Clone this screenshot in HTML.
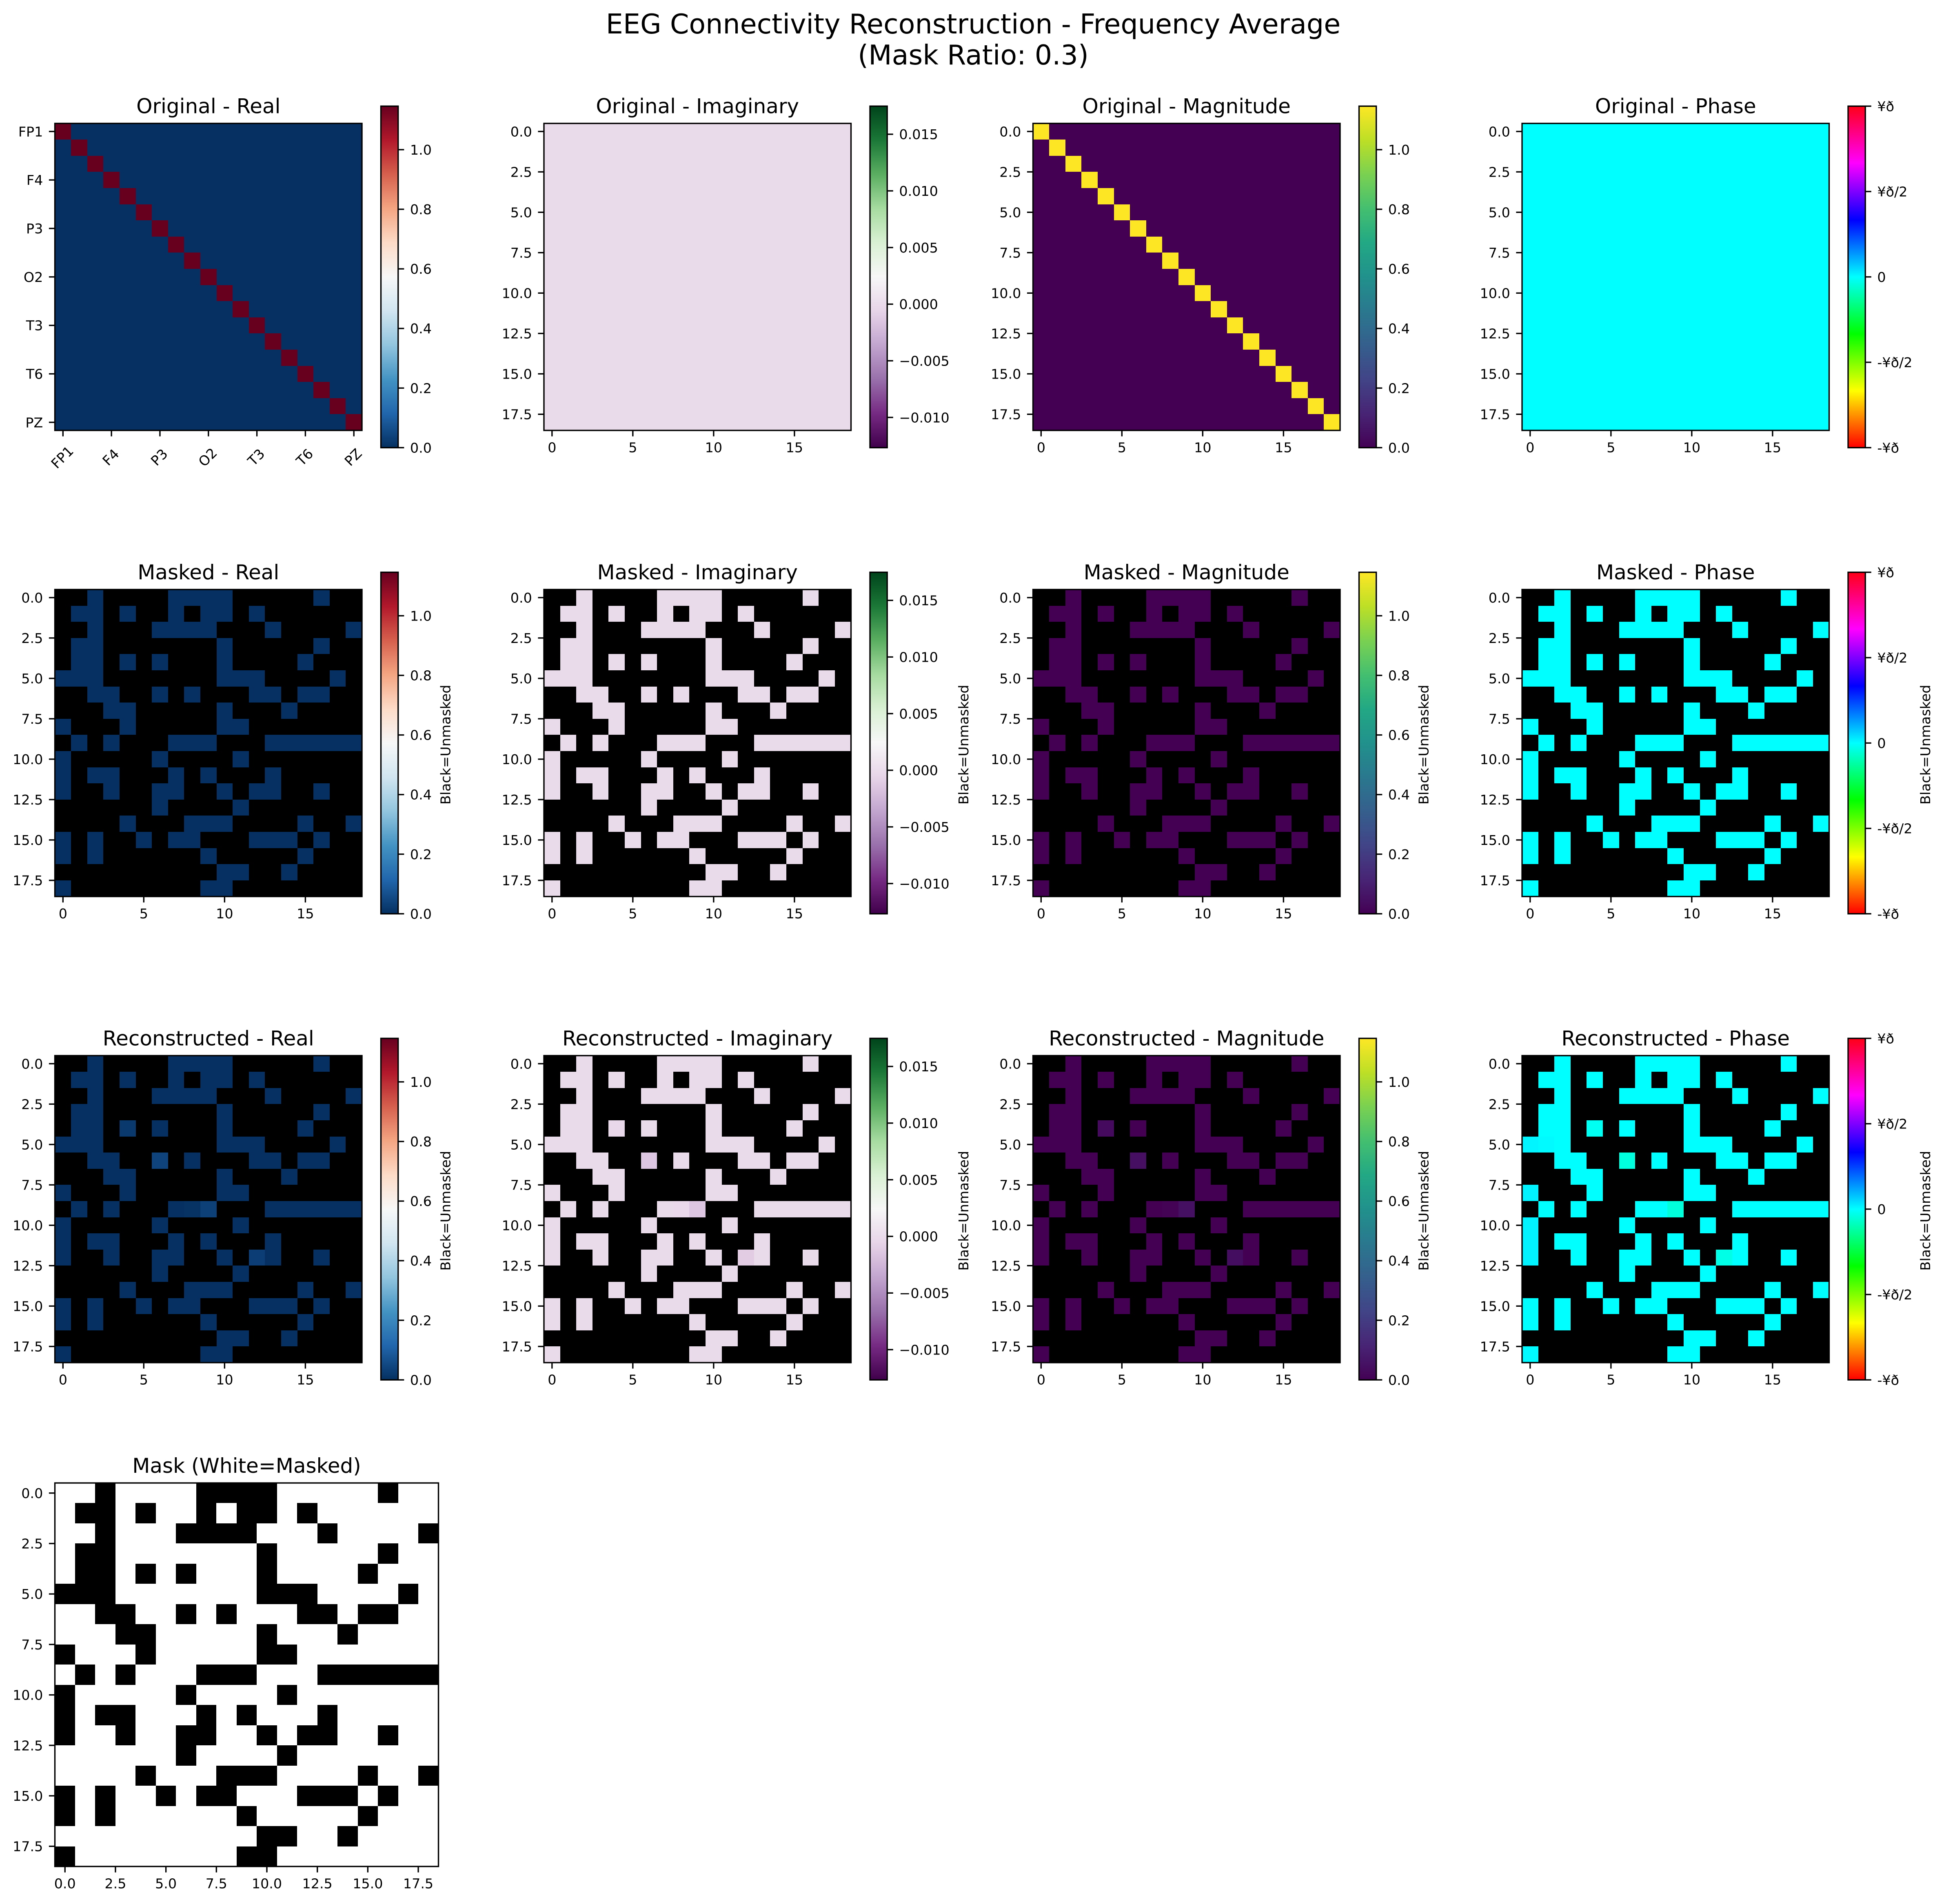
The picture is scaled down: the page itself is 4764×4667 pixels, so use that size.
<!DOCTYPE html>
<html lang="en">
<head>
<meta charset="utf-8">
<title>EEG Connectivity Reconstruction - Frequency Average</title>
<style>
html,body{margin:0;padding:0;background:#fff;}
svg{display:block;}
text{font-family:"DejaVu Sans","Liberation Sans",sans-serif;fill:#000;}
</style>
</head>
<body>
<svg id="figure" xmlns="http://www.w3.org/2000/svg" width="4764" height="4667" viewBox="0 0 4764 4667">
<rect x="0" y="0" width="4764" height="4667" fill="#ffffff"/>
<text x="2385" y="82" font-size="66.67" text-anchor="middle">EEG Connectivity Reconstruction - Frequency Average</text>
<text x="2385" y="158" font-size="66.67" text-anchor="middle">(Mask Ratio: 0.3)</text>
</svg>
<script>
const channelLabels = ['FP1','F4','P3','O2','T3','T6','PZ'];
const channelTicks = [0,3,6,9,12,15,18];
const intTicks = [0,5,10,15];
const intTickLabels = ['0','5','10','15'];
const halfTicks = [0,2.5,5,7.5,10,12.5,15,17.5];
const halfTickLabels = ['0.0','2.5','5.0','7.5','10.0','12.5','15.0','17.5'];

const realBarTicks = [0,0.2,0.4,0.6,0.8,1.0];
const realBarLabels = ['0.0','0.2','0.4','0.6','0.8','1.0'];
const imagBarTicks = [-0.010,-0.005,0,0.005,0.010,0.015];
const imagBarLabels = ['\u22120.010','\u22120.005','0.000','0.005','0.010','0.015'];
const phaseBarTicks = [-3.14159,-1.5708,0,1.5708,3.14159];
const phaseBarLabels = ['-¥ð','-¥ð/2','0','¥ð/2','¥ð'];

const realRange = [0,1.146];
const imagRange = [-0.01267,0.01748];
const magnitudeRange = [0,1.146];
const phaseRange = [-3.14159,3.14159];

const rdbuStops = ['#053061','#2166ac','#4393c3','#92c5de','#d1e5f0','#f7f7f7','#fddbc7','#f4a582','#d6604d','#b2182b','#67001f'];
const prgnStops = ['#40004b','#762a83','#9970ab','#c2a5cf','#e7d4e8','#f7f7f7','#d9f0d3','#a6dba0','#5aae61','#1b7837','#00441b'];
const viridisStops = ['#440154','#482475','#414487','#355f8d','#2a788e','#21918c','#22a884','#44bf70','#7ad151','#bddf26','#fde725'];
const hsvStops = ['#ff0000','#ffff00','#00ff00','#00ffff','#0000ff','#ff00ff','#ff0018'];

const maskMatrix = [
[1,1,0,1,1,1,1,0,0,0,0,1,1,1,1,1,0,1,1],
[1,0,0,1,0,1,1,0,1,0,0,1,0,1,1,1,1,1,1],
[1,1,0,1,1,1,0,0,0,0,1,1,1,0,1,1,1,1,0],
[1,0,0,1,1,1,1,1,1,1,0,1,1,1,1,1,0,1,1],
[1,0,0,1,0,1,0,1,1,1,0,1,1,1,1,0,1,1,1],
[0,0,0,1,1,1,1,1,1,1,0,0,0,1,1,1,1,0,1],
[1,1,0,0,1,1,0,1,0,1,1,1,0,0,1,0,0,1,1],
[1,1,1,0,0,1,1,1,1,1,0,1,1,1,0,1,1,1,1],
[0,1,1,1,0,1,1,1,1,1,0,0,1,1,1,1,1,1,1],
[1,0,1,0,1,1,1,0,0,0,1,1,1,0,0,0,0,0,0],
[0,1,1,1,1,1,0,1,1,1,1,0,1,1,1,1,1,1,1],
[0,1,0,0,1,1,1,0,1,0,1,1,1,0,1,1,1,1,1],
[0,1,1,0,1,1,0,0,1,1,0,1,0,0,1,1,0,1,1],
[1,1,1,1,1,1,0,1,1,1,1,0,1,1,1,1,1,1,1],
[1,1,1,1,0,1,1,1,0,0,0,1,1,1,1,0,1,1,0],
[0,1,0,1,1,0,1,0,0,1,1,1,0,0,0,1,0,1,1],
[0,1,0,1,1,1,1,1,1,0,1,1,1,1,1,0,1,1,1],
[1,1,1,1,1,1,1,1,1,1,0,0,1,1,0,1,1,1,1],
[0,1,1,1,1,1,1,1,1,0,0,1,1,1,1,1,1,1,1]
];

const originalReal = [
[1.146,0,0,0,0,0,0,0,0,0,0,0,0,0,0,0,0,0,0],
[0,1.146,0,0,0,0,0,0,0,0,0,0,0,0,0,0,0,0,0],
[0,0,1.146,0,0,0,0,0,0,0,0,0,0,0,0,0,0,0,0],
[0,0,0,1.146,0,0,0,0,0,0,0,0,0,0,0,0,0,0,0],
[0,0,0,0,1.146,0,0,0,0,0,0,0,0,0,0,0,0,0,0],
[0,0,0,0,0,1.146,0,0,0,0,0,0,0,0,0,0,0,0,0],
[0,0,0,0,0,0,1.146,0,0,0,0,0,0,0,0,0,0,0,0],
[0,0,0,0,0,0,0,1.146,0,0,0,0,0,0,0,0,0,0,0],
[0,0,0,0,0,0,0,0,1.146,0,0,0,0,0,0,0,0,0,0],
[0,0,0,0,0,0,0,0,0,1.146,0,0,0,0,0,0,0,0,0],
[0,0,0,0,0,0,0,0,0,0,1.146,0,0,0,0,0,0,0,0],
[0,0,0,0,0,0,0,0,0,0,0,1.146,0,0,0,0,0,0,0],
[0,0,0,0,0,0,0,0,0,0,0,0,1.146,0,0,0,0,0,0],
[0,0,0,0,0,0,0,0,0,0,0,0,0,1.146,0,0,0,0,0],
[0,0,0,0,0,0,0,0,0,0,0,0,0,0,1.146,0,0,0,0],
[0,0,0,0,0,0,0,0,0,0,0,0,0,0,0,1.146,0,0,0],
[0,0,0,0,0,0,0,0,0,0,0,0,0,0,0,0,1.146,0,0],
[0,0,0,0,0,0,0,0,0,0,0,0,0,0,0,0,0,1.146,0],
[0,0,0,0,0,0,0,0,0,0,0,0,0,0,0,0,0,0,1.146]
];

const originalImag = [
[0,0,0,0,0,0,0,0,0,0,0,0,0,0,0,0,0,0,0],
[0,0,0,0,0,0,0,0,0,0,0,0,0,0,0,0,0,0,0],
[0,0,0,0,0,0,0,0,0,0,0,0,0,0,0,0,0,0,0],
[0,0,0,0,0,0,0,0,0,0,0,0,0,0,0,0,0,0,0],
[0,0,0,0,0,0,0,0,0,0,0,0,0,0,0,0,0,0,0],
[0,0,0,0,0,0,0,0,0,0,0,0,0,0,0,0,0,0,0],
[0,0,0,0,0,0,0,0,0,0,0,0,0,0,0,0,0,0,0],
[0,0,0,0,0,0,0,0,0,0,0,0,0,0,0,0,0,0,0],
[0,0,0,0,0,0,0,0,0,0,0,0,0,0,0,0,0,0,0],
[0,0,0,0,0,0,0,0,0,0,0,0,0,0,0,0,0,0,0],
[0,0,0,0,0,0,0,0,0,0,0,0,0,0,0,0,0,0,0],
[0,0,0,0,0,0,0,0,0,0,0,0,0,0,0,0,0,0,0],
[0,0,0,0,0,0,0,0,0,0,0,0,0,0,0,0,0,0,0],
[0,0,0,0,0,0,0,0,0,0,0,0,0,0,0,0,0,0,0],
[0,0,0,0,0,0,0,0,0,0,0,0,0,0,0,0,0,0,0],
[0,0,0,0,0,0,0,0,0,0,0,0,0,0,0,0,0,0,0],
[0,0,0,0,0,0,0,0,0,0,0,0,0,0,0,0,0,0,0],
[0,0,0,0,0,0,0,0,0,0,0,0,0,0,0,0,0,0,0],
[0,0,0,0,0,0,0,0,0,0,0,0,0,0,0,0,0,0,0]
];

const originalMagnitude = [
[1.146,0,0,0,0,0,0,0,0,0,0,0,0,0,0,0,0,0,0],
[0,1.146,0,0,0,0,0,0,0,0,0,0,0,0,0,0,0,0,0],
[0,0,1.146,0,0,0,0,0,0,0,0,0,0,0,0,0,0,0,0],
[0,0,0,1.146,0,0,0,0,0,0,0,0,0,0,0,0,0,0,0],
[0,0,0,0,1.146,0,0,0,0,0,0,0,0,0,0,0,0,0,0],
[0,0,0,0,0,1.146,0,0,0,0,0,0,0,0,0,0,0,0,0],
[0,0,0,0,0,0,1.146,0,0,0,0,0,0,0,0,0,0,0,0],
[0,0,0,0,0,0,0,1.146,0,0,0,0,0,0,0,0,0,0,0],
[0,0,0,0,0,0,0,0,1.146,0,0,0,0,0,0,0,0,0,0],
[0,0,0,0,0,0,0,0,0,1.146,0,0,0,0,0,0,0,0,0],
[0,0,0,0,0,0,0,0,0,0,1.146,0,0,0,0,0,0,0,0],
[0,0,0,0,0,0,0,0,0,0,0,1.146,0,0,0,0,0,0,0],
[0,0,0,0,0,0,0,0,0,0,0,0,1.146,0,0,0,0,0,0],
[0,0,0,0,0,0,0,0,0,0,0,0,0,1.146,0,0,0,0,0],
[0,0,0,0,0,0,0,0,0,0,0,0,0,0,1.146,0,0,0,0],
[0,0,0,0,0,0,0,0,0,0,0,0,0,0,0,1.146,0,0,0],
[0,0,0,0,0,0,0,0,0,0,0,0,0,0,0,0,1.146,0,0],
[0,0,0,0,0,0,0,0,0,0,0,0,0,0,0,0,0,1.146,0],
[0,0,0,0,0,0,0,0,0,0,0,0,0,0,0,0,0,0,1.146]
];

const originalPhase = [
[0,0,0,0,0,0,0,0,0,0,0,0,0,0,0,0,0,0,0],
[0,0,0,0,0,0,0,0,0,0,0,0,0,0,0,0,0,0,0],
[0,0,0,0,0,0,0,0,0,0,0,0,0,0,0,0,0,0,0],
[0,0,0,0,0,0,0,0,0,0,0,0,0,0,0,0,0,0,0],
[0,0,0,0,0,0,0,0,0,0,0,0,0,0,0,0,0,0,0],
[0,0,0,0,0,0,0,0,0,0,0,0,0,0,0,0,0,0,0],
[0,0,0,0,0,0,0,0,0,0,0,0,0,0,0,0,0,0,0],
[0,0,0,0,0,0,0,0,0,0,0,0,0,0,0,0,0,0,0],
[0,0,0,0,0,0,0,0,0,0,0,0,0,0,0,0,0,0,0],
[0,0,0,0,0,0,0,0,0,0,0,0,0,0,0,0,0,0,0],
[0,0,0,0,0,0,0,0,0,0,0,0,0,0,0,0,0,0,0],
[0,0,0,0,0,0,0,0,0,0,0,0,0,0,0,0,0,0,0],
[0,0,0,0,0,0,0,0,0,0,0,0,0,0,0,0,0,0,0],
[0,0,0,0,0,0,0,0,0,0,0,0,0,0,0,0,0,0,0],
[0,0,0,0,0,0,0,0,0,0,0,0,0,0,0,0,0,0,0],
[0,0,0,0,0,0,0,0,0,0,0,0,0,0,0,0,0,0,0],
[0,0,0,0,0,0,0,0,0,0,0,0,0,0,0,0,0,0,0],
[0,0,0,0,0,0,0,0,0,0,0,0,0,0,0,0,0,0,0],
[0,0,0,0,0,0,0,0,0,0,0,0,0,0,0,0,0,0,0]
];

const maskedReal = [
[0,0,0,0,0,0,0,0,0,0,0,0,0,0,0,0,0,0,0],
[0,0,0,0,0,0,0,0,0,0,0,0,0,0,0,0,0,0,0],
[0,0,0,0,0,0,0,0,0,0,0,0,0,0,0,0,0,0,0],
[0,0,0,0,0,0,0,0,0,0,0,0,0,0,0,0,0,0,0],
[0,0,0,0,0,0,0,0,0,0,0,0,0,0,0,0,0,0,0],
[0,0,0,0,0,0,0,0,0,0,0,0,0,0,0,0,0,0,0],
[0,0,0,0,0,0,0,0,0,0,0,0,0,0,0,0,0,0,0],
[0,0,0,0,0,0,0,0,0,0,0,0,0,0,0,0,0,0,0],
[0,0,0,0,0,0,0,0,0,0,0,0,0,0,0,0,0,0,0],
[0,0,0,0,0,0,0,0,0,0,0,0,0,0,0,0,0,0,0],
[0,0,0,0,0,0,0,0,0,0,0,0,0,0,0,0,0,0,0],
[0,0,0,0,0,0,0,0,0,0,0,0,0,0,0,0,0,0,0],
[0,0,0,0,0,0,0,0,0,0,0,0,0,0,0,0,0,0,0],
[0,0,0,0,0,0,0,0,0,0,0,0,0,0,0,0,0,0,0],
[0,0,0,0,0,0,0,0,0,0,0,0,0,0,0,0,0,0,0],
[0,0,0,0,0,0,0,0,0,0,0,0,0,0,0,0,0,0,0],
[0,0,0,0,0,0,0,0,0,0,0,0,0,0,0,0,0,0,0],
[0,0,0,0,0,0,0,0,0,0,0,0,0,0,0,0,0,0,0],
[0,0,0,0,0,0,0,0,0,0,0,0,0,0,0,0,0,0,0]
];

const maskedMagnitude = [
[0,0,0,0,0,0,0,0,0,0,0,0,0,0,0,0,0,0,0],
[0,0,0,0,0,0,0,0,0,0,0,0,0,0,0,0,0,0,0],
[0,0,0,0,0,0,0,0,0,0,0,0,0,0,0,0,0,0,0],
[0,0,0,0,0,0,0,0,0,0,0,0,0,0,0,0,0,0,0],
[0,0,0,0,0,0,0,0,0,0,0,0,0,0,0,0,0,0,0],
[0,0,0,0,0,0,0,0,0,0,0,0,0,0,0,0,0,0,0],
[0,0,0,0,0,0,0,0,0,0,0,0,0,0,0,0,0,0,0],
[0,0,0,0,0,0,0,0,0,0,0,0,0,0,0,0,0,0,0],
[0,0,0,0,0,0,0,0,0,0,0,0,0,0,0,0,0,0,0],
[0,0,0,0,0,0,0,0,0,0,0,0,0,0,0,0,0,0,0],
[0,0,0,0,0,0,0,0,0,0,0,0,0,0,0,0,0,0,0],
[0,0,0,0,0,0,0,0,0,0,0,0,0,0,0,0,0,0,0],
[0,0,0,0,0,0,0,0,0,0,0,0,0,0,0,0,0,0,0],
[0,0,0,0,0,0,0,0,0,0,0,0,0,0,0,0,0,0,0],
[0,0,0,0,0,0,0,0,0,0,0,0,0,0,0,0,0,0,0],
[0,0,0,0,0,0,0,0,0,0,0,0,0,0,0,0,0,0,0],
[0,0,0,0,0,0,0,0,0,0,0,0,0,0,0,0,0,0,0],
[0,0,0,0,0,0,0,0,0,0,0,0,0,0,0,0,0,0,0],
[0,0,0,0,0,0,0,0,0,0,0,0,0,0,0,0,0,0,0]
];

const reconReal = [
[0,0,0,0,0,0,0,0,0,0,0,0,0,0,0,0,0,0,0],
[0,0,0,0,0,0,0,0,0,0,0,0,0,0,0,0,0,0,0],
[0,0,0,0,0,0,0,0,0,0,0,0,0,0,0,0,0,0,0],
[0,0,0,0,0,0,0,0,0,0,0,0,0,0,0,0,0,0,0],
[0,0,0,0,0.02,0,0,0,0,0,0,0,0,0,0,0,0,0,0],
[0,0,0,0,0,0,0,0,0,0,0,0,0,0,0,0,0,0,0],
[0,0,0,0,0,0,0.04,0,0,0,0,0,0,0,0,0,0,0,0],
[0,0,0,0,0,0,0,0,0,0,0,0,0,0,0,0,0,0,0],
[0,0,0,0,0,0,0,0,0,0,0,0,0,0,0,0,0,0,0],
[0,0,0,0,0,0,0,0,0.005,0.035,0,0,0,0,0,0,0,0,0],
[0,0,0,0,0,0,0,0,0,0,0,0,0,0,0,0,0,0,0],
[0,0,0,0,0,0,0,0,0,0,0,0,0,0,0,0,0,0,0],
[0,0,0,0,0,0,0,0,0,0,0,0,0.03,0,0,0,0,0,0],
[0,0,0,0,0,0,0,0,0,0,0,0,0,0,0,0,0,0,0],
[0,0,0,0,0,0,0,0,0,0,0,0,0,0,0,0,0,0,0],
[0,0,0,0,0,0,0,0,0,0,0,0,0,0,0,0,0,0,0],
[0,0,0,0,0,0,0,0,0,0,0,0,0,0,0,0,0,0,0],
[0,0,0,0,0,0,0,0,0,0,0,0,0,0,0,0,0,0,0],
[0,0,0,0,0,0,0,0,0,0,0,0,0,0,0,0,0,0,0]
];

const reconImag = [
[0,0,0,0,0,0,0,0,0,0,0,0,0,0,0,0,0,0,0],
[0,0,0,0,0,0,0,0,0,0,0,0,0,0,0,0,0,0,0],
[0,0,0,0,0,0,0,0,0,0,0,0,0,0,0,0,0,0,0],
[0,0,0,0,0,0,0,0,0,0,0,0,0,0,0,0,0,0,0],
[0,0,0,0,-0.0003,0,0,0,0,0,0,0,0,0,0,0,0,0,0],
[0,0,0,0,0,0,0,0,0,0,0,0,0,0,0,0,0,0,0],
[0,0,0,0,0,0,-0.0015,0,0,0,0,0,0,0,0,0,0,0,0],
[0,0,0,0,0,0,0,0,0,0,0,0,0,0,0,0,0,0,0],
[0,0,0,0,0,0,0,0,0,0,0,0,0,0,0,0,0,0,0],
[0,0,0,0,0,0,0,0,-0.0002,-0.0015,0,0,0,0,0,0,0,0,0],
[0,0,0,0,0,0,0,0,0,0,0,0,0,0,0,0,0,0,0],
[0,0,0,0,0,0,0,0,0,0,0,0,0,0,0,0,0,0,0],
[0,0,0,0,0,0,0,0,0,0,0,0,-0.0011,0,0,0,0,0,0],
[0,0,0,0,0,0,0,0,0,0,0,0,0,0,0,0,0,0,0],
[0,0,0,0,0,0,0,0,0,0,0,0,0,0,0,0,0,0,0],
[0,0,0,0,0,0,0,0,0,0,0,0,0,0,0,0,0,0,0],
[0,0,0,0,0,0,0,0,0,0,0,0,0,0,0,0,0,0,0],
[0,0,0,0,0,0,0,0,0,0,0,0,0,0,0,0,0,0,0],
[0,0,0,0,0,0,0,0,0,0,0,0,0,0,0,0,0,0,0]
];

const reconMagnitude = [
[0,0,0,0,0,0,0,0,0,0,0,0,0,0,0,0,0,0,0],
[0,0,0,0,0,0,0,0,0,0,0,0,0,0,0,0,0,0,0],
[0,0,0,0,0,0,0,0,0,0,0,0,0,0,0,0,0,0,0],
[0,0,0,0,0,0,0,0,0,0,0,0,0,0,0,0,0,0,0],
[0,0,0,0,0.03,0,0,0,0,0,0,0,0,0,0,0,0,0,0],
[0,0,0,0,0,0,0,0,0,0,0,0,0,0,0,0,0,0,0],
[0,0,0,0,0,0,0.045,0,0,0,0,0,0,0,0,0,0,0,0],
[0,0,0,0,0,0,0,0,0,0,0,0,0,0,0,0,0,0,0],
[0,0,0,0,0,0,0,0,0,0,0,0,0,0,0,0,0,0,0],
[0,0,0,0,0,0,0,0,0.005,0.05,0,0,0,0,0,0,0,0,0],
[0,0,0,0,0,0,0,0,0,0,0,0,0,0,0,0,0,0,0],
[0,0,0,0,0,0,0,0,0,0,0,0,0,0,0,0,0,0,0],
[0,0,0,0,0,0,0,0,0,0,0,0,0.04,0,0,0,0,0,0],
[0,0,0,0,0,0,0,0,0,0,0,0,0,0,0,0,0,0,0],
[0,0,0,0,0,0,0,0,0,0,0,0,0,0,0,0,0,0,0],
[0,0,0,0,0,0,0,0,0,0,0,0,0,0,0,0,0,0,0],
[0,0,0,0,0,0,0,0,0,0,0,0,0,0,0,0,0,0,0],
[0,0,0,0,0,0,0,0,0,0,0,0,0,0,0,0,0,0,0],
[0,0,0,0,0,0,0,0,0,0,0,0,0,0,0,0,0,0,0]
];

const reconPhase = [
[0,0,0,0,0,0,0,0,0,0,0,0,0,0,0,0,0,0,0],
[0,0,0,0,0,0,0,0,0,0,0,0,0,0,0,0,0,0,0],
[0,0,0,0,0,0,0,0,0,0,0,0,0,0,0,0,0,0,0],
[0,0,0,0,0,0,0,0,0,0,0,0,0,0,0,0,0,0,0],
[0,0,0,0,-0.05,0,0,0,0,0,0,0,0,0,0,0,0,0,0],
[0.04,0.02,0,0,0,0,0,0,0,0,0,0,0,0,0,0,0,0,0],
[0,0,0,0,0,0,-0.13,0,0,0,0,0,0,0,0,0,0,0,0],
[0,0,0,0,0,0,0,0,0,0,0,0,0,0,0,0,0,0,0],
[0.05,0,0,0,0,0,0,0,0,0,0,0,0,0,0,0,0,0,0],
[0,0,0,0,0,0,0,0,0,-0.15,0,0,0,0,0,0,0,0,0],
[0.05,0,0,0,0,0,0,0,0,0,0,0,0,0,0,0,0,0,0],
[0.05,0,0,0,0,0,0,0,0,0,0,0,0,0,0,0,0,0,0],
[0.05,0,0,0,0,0,0,0,0,0,0,0,-0.10,0,0,0,0,0,0],
[0,0,0,0,0,0,0,0,0,0,0,0,0,0,0,0,0,0,0],
[0,0,0,0,0,0,0,0,0,0,0,0,0,0,0,0,0,0,0],
[0,0,0,0,0,0,0,0,0,0,0,0,0,0,0,0,0,0,0],
[0,0,0,0,0,0,0,0,0,0,0,0,0,0,0,0,0,0,0],
[0,0,0,0,0,0,0,0,0,0,0,0,0,0,0,0,0,0,0],
[0.02,0,0,0,0,0,0,0,0,0,0,0,0,0,0,0,0,0,0]
];

const SVG_NS = 'http://www.w3.org/2000/svg';
const figure = document.getElementById('figure');
const STROKE = 3.33;
const TICK = 14.6;
const PAD = 14.6;
const FONT = 33.33;
const GRID = 19;

function make(tag, attrs, parent) {
  const el = document.createElementNS(SVG_NS, tag);
  for (const k in attrs) el.setAttribute(k, attrs[k]);
  parent.appendChild(el);
  return el;
}
function hexToRgb(h) {
  return [parseInt(h.slice(1,3),16), parseInt(h.slice(3,5),16), parseInt(h.slice(5,7),16)];
}
function colorAt(stops, t) {
  const c = Math.max(0, Math.min(1, t)) * (stops.length - 1);
  const i = Math.min(stops.length - 2, Math.floor(c));
  const f = c - i;
  const a = hexToRgb(stops[i]);
  const b = hexToRgb(stops[i + 1]);
  return 'rgb(' + a.map((v, k) => Math.round(v + (b[k] - v) * f)).join(',') + ')';
}
function slug(s) {
  return s.toLowerCase().replace(/[^a-z0-9]+/g, '-').replace(/^-|-$/g, '');
}

/* colour-bar gradients */
const defs = make('defs', {}, figure);
function addGradient(id, stops) {
  const g = make('linearGradient', {id: id, x1: 0, y1: 1, x2: 0, y2: 0}, defs);
  stops.forEach((s, i) => make('stop', {offset: i / (stops.length - 1), 'stop-color': s}, g));
}
addGradient('grad-rdbu', rdbuStops);
addGradient('grad-prgn', prgnStops);
addGradient('grad-viridis', viridisStops);
addGradient('grad-hsv', hsvStops);

const kinds = {
  real: {label: 'Real', stops: rdbuStops, range: realRange, grad: 'grad-rdbu', ticks: realBarTicks, labels: realBarLabels, labelOffset: 957},
  imag: {label: 'Imaginary', stops: prgnStops, range: imagRange, grad: 'grad-prgn', ticks: imagBarTicks, labels: imagBarLabels, labelOffset: 1028},
  mag: {label: 'Magnitude', stops: viridisStops, range: magnitudeRange, grad: 'grad-viridis', ticks: realBarTicks, labels: realBarLabels, labelOffset: 957},
  phase: {label: 'Phase', stops: hsvStops, range: phaseRange, grad: 'grad-hsv', ticks: phaseBarTicks, labels: phaseBarLabels, labelOffset: 988}
};

function drawAxes(group, o) {
  const cell = o.size / GRID;
  const xPos = v => o.x + (v + 0.5) * cell;
  const yPos = v => o.y + (v + 0.5) * cell;

  const image = make('g', {'shape-rendering': 'crispEdges'}, group);
  
  
  for (let r = 0; r < GRID; r++) {
    for (let c = 0; c < GRID; c++) {
      const x0 = Math.round(o.x + c * cell);
      const x1 = Math.round(o.x + (c + 1) * cell);
      const y0 = Math.round(o.y + r * cell);
      const y1 = Math.round(o.y + (r + 1) * cell);
      const rect = make('rect', {x: x0, y: y0, width: x1 - x0, height: y1 - y0, fill: o.color(r, c)}, image);
      
      
    }
  }

  const spine = make('rect', {x: o.x, y: o.y, width: o.size, height: o.size, fill: 'none', stroke: '#000', 'stroke-width': STROKE}, group);
  
  

  const title = make('text', {x: o.x + o.size / 2, y: o.y - 25, 'font-size': 50, 'text-anchor': 'middle'}, group);
  title.textContent = o.title;
  
  

  o.yTicks.forEach((v, i) => {
    const y = yPos(v);
    const tick = make('line', {x1: o.x, x2: o.x - TICK, y1: y, y2: y, stroke: '#000', 'stroke-width': STROKE}, group);
    
    
    const label = make('text', {x: o.x - TICK - PAD, y: y + 12.1, 'font-size': FONT, 'text-anchor': 'end'}, group);
    label.textContent = o.yLabels[i];
    
    
  });

  o.xTicks.forEach((v, i) => {
    const x = xPos(v);
    const bottom = o.y + o.size;
    const tick = make('line', {x1: x, x2: x, y1: bottom, y2: bottom + TICK, stroke: '#000', 'stroke-width': STROKE}, group);
    
    
    const label = make('text', {'font-size': FONT, 'text-anchor': 'middle'}, group);
    if (o.rotateX) {
      label.setAttribute('transform', 'translate(' + (x - 2) + ',' + (bottom + 65.5) + ') rotate(-45)');
      label.setAttribute('y', 12.1);
    } else {
      label.setAttribute('x', x);
      label.setAttribute('y', bottom + TICK + PAD + 24.3);
    }
    label.textContent = o.xLabels[i];
    
    
  });
}

function drawColorbar(group, o, kind, withLabel) {
  const bx = o.x + 799;
  const bw = 42.2;
  const by = o.y - 42.3;
  const bh = o.size + 84.6;
  const span = kind.range[1] - kind.range[0];
  const barY = v => by + bh - (v - kind.range[0]) / span * bh;

  const bar = make('rect', {x: bx, y: by, width: bw, height: bh, fill: 'url(#' + kind.grad + ')', stroke: '#000', 'stroke-width': STROKE}, group);
  
  

  kind.ticks.forEach((v, i) => {
    const y = barY(v);
    const tick = make('line', {x1: bx + bw, x2: bx + bw + TICK, y1: y, y2: y, stroke: '#000', 'stroke-width': STROKE}, group);
    
    
    const label = make('text', {x: bx + bw + TICK + PAD, y: y + 12.1, 'font-size': FONT}, group);
    label.textContent = kind.labels[i];
    
    
  });

  if (withLabel) {
    const lx = o.x + kind.labelOffset + 12;
    const ly = by + bh / 2 + 4;
    const cap = make('text', {'font-size': FONT, 'text-anchor': 'middle', transform: 'translate(' + lx + ',' + ly + ') rotate(-90)'}, group);
    cap.textContent = 'Black=Unmasked';
    
    
  }
}

const rowsSpec = [
  {name: 'Original', masked: false, data: {real: originalReal, imag: originalImag, mag: originalMagnitude, phase: originalPhase}},
  {name: 'Masked', masked: true, data: {real: maskedReal, imag: originalImag, mag: maskedMagnitude, phase: originalPhase}},
  {name: 'Reconstructed', masked: true, data: {real: reconReal, imag: reconImag, mag: reconMagnitude, phase: reconPhase}}
];
const kindOrder = ['real', 'imag', 'mag', 'phase'];

rowsSpec.forEach((row, ri) => {
  kindOrder.forEach((key, ci) => {
    const kind = kinds[key];
    const titleText = row.name + ' - ' + kind.label;
    const group = make('g', {}, figure);
    
    
    const matrix = row.data[key];
    const span = kind.range[1] - kind.range[0];
    const isChannel = ri === 0 && ci === 0;
    const opts = {
      x: 134.5 + 1198.5 * ci,
      y: 302.5 + 1142.5 * ri,
      size: 752.5,
      title: titleText,
      color: (r, c) => (row.masked && maskMatrix[r][c] === 1) ? '#000000' : colorAt(kind.stops, (matrix[r][c] - kind.range[0]) / span),
      yTicks: isChannel ? channelTicks : halfTicks,
      yLabels: isChannel ? channelLabels : halfTickLabels,
      xTicks: isChannel ? channelTicks : intTicks,
      xLabels: isChannel ? channelLabels : intTickLabels,
      rotateX: isChannel
    };
    drawAxes(group, opts);
    drawColorbar(group, opts, kind, row.masked);
  });
});

const maskGroup = make('g', {}, figure);


drawAxes(maskGroup, {
  x: 134.5,
  y: 3635,
  size: 940,
  title: 'Mask (White=Masked)',
  color: (r, c) => maskMatrix[r][c] === 1 ? '#ffffff' : '#000000',
  yTicks: halfTicks,
  yLabels: halfTickLabels,
  xTicks: halfTicks,
  xLabels: halfTickLabels,
  rotateX: false
});
</script>
</body>
</html>
